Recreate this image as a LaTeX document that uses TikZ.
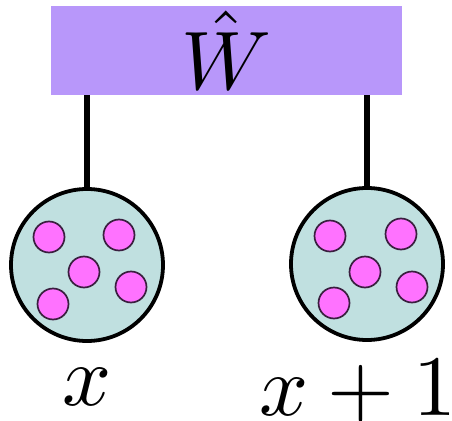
\documentclass[tikz,border=0pt]{standalone}
\usepackage{amsmath}
\usepackage{graphicx}
\definecolor{wpurple}{HTML}{B897FA}
\definecolor{cteal}{HTML}{C0E0E0}
\definecolor{dpink}{HTML}{FF72FF}
\definecolor{dotrim}{HTML}{3A1F3F}
\tikzset{
  wbox/.style={rectangle, fill=wpurple, minimum width=351pt, minimum height=89pt, inner sep=0pt},
  site/.style={circle, draw=black, fill=cteal, line width=3.8pt, minimum size=152pt, inner sep=0pt},
  dot/.style={circle, draw=dotrim, fill=dpink, line width=1.7pt, minimum size=31pt, inner sep=0pt},
  leg/.style={line width=5.8pt},
  lbl/.style={anchor=base, inner sep=0pt}
}
\begin{document}
\begin{tikzpicture}[x=1pt,y=-1pt]
\useasboundingbox (0,0) rectangle (452,420);
\node[wbox] (W) at (226.5,50.5) {\scalebox{8.3}{$\hat{W}$}};
\node[site] (c1) at (87,265) {};
\node[site] (c2) at (367,264) {};
\draw[leg] (W.south -| c1.north) -- (c1.north);
\draw[leg] (W.south -| c2.north) -- (c2.north);
% dots left
\node[dot] (a1) at (49,237) {};
\node[dot] (a2) at (119,235) {};
\node[dot] (a3) at (84,272) {};
\node[dot] (a4) at (131,287) {};
\node[dot] (a5) at (53,304) {};
% dots right
\node[dot] (b1) at (330,236) {};
\node[dot] (b2) at (401,234) {};
\node[dot] (b3) at (365,272) {};
\node[dot] (b4) at (412,287) {};
\node[dot] (b5) at (334,303) {};
\node[lbl] (l1) at (87,405) {\scalebox{8.6}{$x$}};
\node[lbl] (l2) at (358,415) {\scalebox{8.6}{$x+1$}};
\end{tikzpicture}
\end{document}
